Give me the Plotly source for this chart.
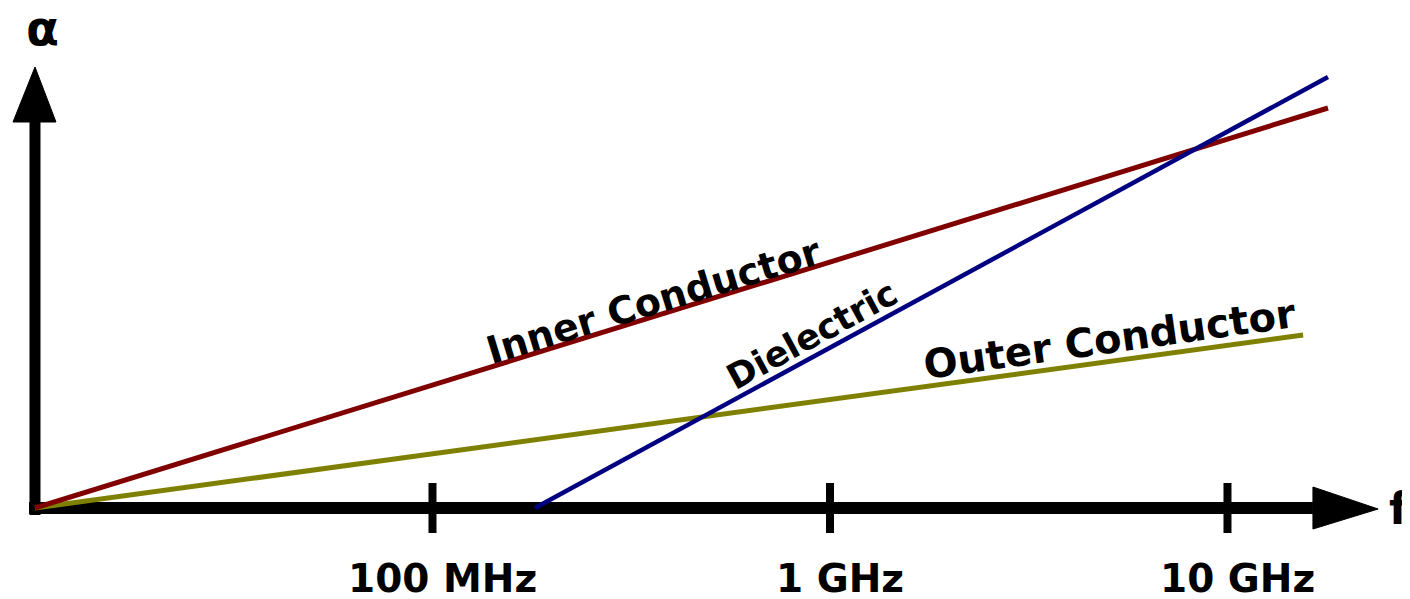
import plotly.graph_objects as go
import numpy as np

# ---- data (arbitrary attenuation units) ----
tick_freqs = [1e8, 1e9, 1e10]
tick_labels = ["100 MHz", "1 GHz", "10 GHz"]

inner_freq = [1e7, 1.79e10]
inner_alpha = [0.0, 4.00]

outer_freq = [1e7, 1.55e10]
outer_alpha = [0.0, 1.73]

diel_freq = [1.81e8, 1.79e10]
diel_alpha = [0.0, 4.31]

# ---- axis geometry (log10 of frequency, alpha units) ----
# the page body adds an 8px offset, so the ranges are shifted to compensate
X_RANGE = [6.9321, 10.4793]
Y_RANGE = [-0.99, 5.00]
X0 = 7.0            # log10 of origin frequency
X_SHAFT_START = 6.985
X_SHAFT_END = 10.215
X_TIP = 10.379
Y_SHAFT_START = -0.07
Y_SHAFT_END = 3.86
Y_TIP = 4.41
V_HEAD_HALF_L = 0.0553
V_HEAD_HALF_R = 0.0528
H_HEAD_HALF = 0.21
TICK_HALF = 0.25

BLACK = "#000000"
fig = go.Figure()

def seg(xs_log, ys, width):
    fig.add_trace(go.Scatter(x=[10 ** v for v in xs_log], y=ys, mode="lines",
                             line=dict(color=BLACK, width=width),
                             hoverinfo="skip", showlegend=False))

def tri(xs_log, ys):
    fig.add_trace(go.Scatter(x=[10 ** v for v in xs_log], y=ys, mode="lines",
                             fill="toself", fillcolor=BLACK,
                             line=dict(color=BLACK, width=1),
                             hoverinfo="skip", showlegend=False))

# axes
seg([X0, X0], [Y_SHAFT_START, Y_SHAFT_END], 11)
seg([X_SHAFT_START, X_SHAFT_END], [0, 0], 12)
tri([X0 - V_HEAD_HALF_L, X0, X0 + V_HEAD_HALF_R, X0 - V_HEAD_HALF_L],
    [Y_SHAFT_END, Y_TIP, Y_SHAFT_END, Y_SHAFT_END])
tri([X_SHAFT_END, X_TIP, X_SHAFT_END, X_SHAFT_END],
    [H_HEAD_HALF, -0.01, -H_HEAD_HALF, H_HEAD_HALF])
for f in tick_freqs:
    seg([np.log10(f)] * 2, [-TICK_HALF, TICK_HALF], 8)

# series
fig.add_trace(go.Scatter(x=outer_freq, y=outer_alpha, mode="lines",
                         line=dict(color="#808000", width=5), name="Outer Conductor"))
fig.add_trace(go.Scatter(x=inner_freq, y=inner_alpha, mode="lines",
                         line=dict(color="#800000", width=5), name="Inner Conductor"))
fig.add_trace(go.Scatter(x=diel_freq, y=diel_alpha, mode="lines",
                         line=dict(color="#000080", width=4.5), name="Dielectric"))

FONT = "DejaVu Sans"
annots = []
for f, lab in zip(tick_freqs, tick_labels):
    annots.append(dict(x=np.log10(f), y=-0.70, text=lab, showarrow=False,
                       xanchor="center", yanchor="middle", xshift=10, borderpad=0,
                       font=dict(family=FONT, size=39, color=BLACK, weight="bold")))

series_labels = [
    ("Inner Conductor", 8.557, 2.07, -17, 38),
    ("Dielectric", 8.955, 1.73, -28.5, 35),
    ("Outer Conductor", 9.704, 1.69, -8, 40),
]
for text, lx, ly, ang, sz in series_labels:
    annots.append(dict(x=lx, y=ly, text=text, showarrow=False, textangle=ang,
                       xanchor="center", yanchor="middle",
                       font=dict(family=FONT, size=sz, color=BLACK, weight="bold")))

annots.append(dict(x=7.02, y=4.80, text="α", showarrow=False, xanchor="center", yanchor="middle",
                   borderpad=0,
                   font=dict(family=FONT, size=48, color=BLACK, weight="bold")))
annots.append(dict(x=10.405, y=0.0, text="f", showarrow=False, xanchor="left", yanchor="middle",
                   borderpad=0,
                   font=dict(family=FONT, size=44, color=BLACK, weight="bold")))

fig.update_layout(
    width=1410, height=599,
    margin=dict(l=0, r=0, t=0, b=0),
    paper_bgcolor="white", plot_bgcolor="white",
    showlegend=False,
    xaxis=dict(type="log", range=X_RANGE, visible=False, fixedrange=True),
    yaxis=dict(range=Y_RANGE, visible=False, fixedrange=True),
    annotations=annots,
)

fig.write_html("out.html")
